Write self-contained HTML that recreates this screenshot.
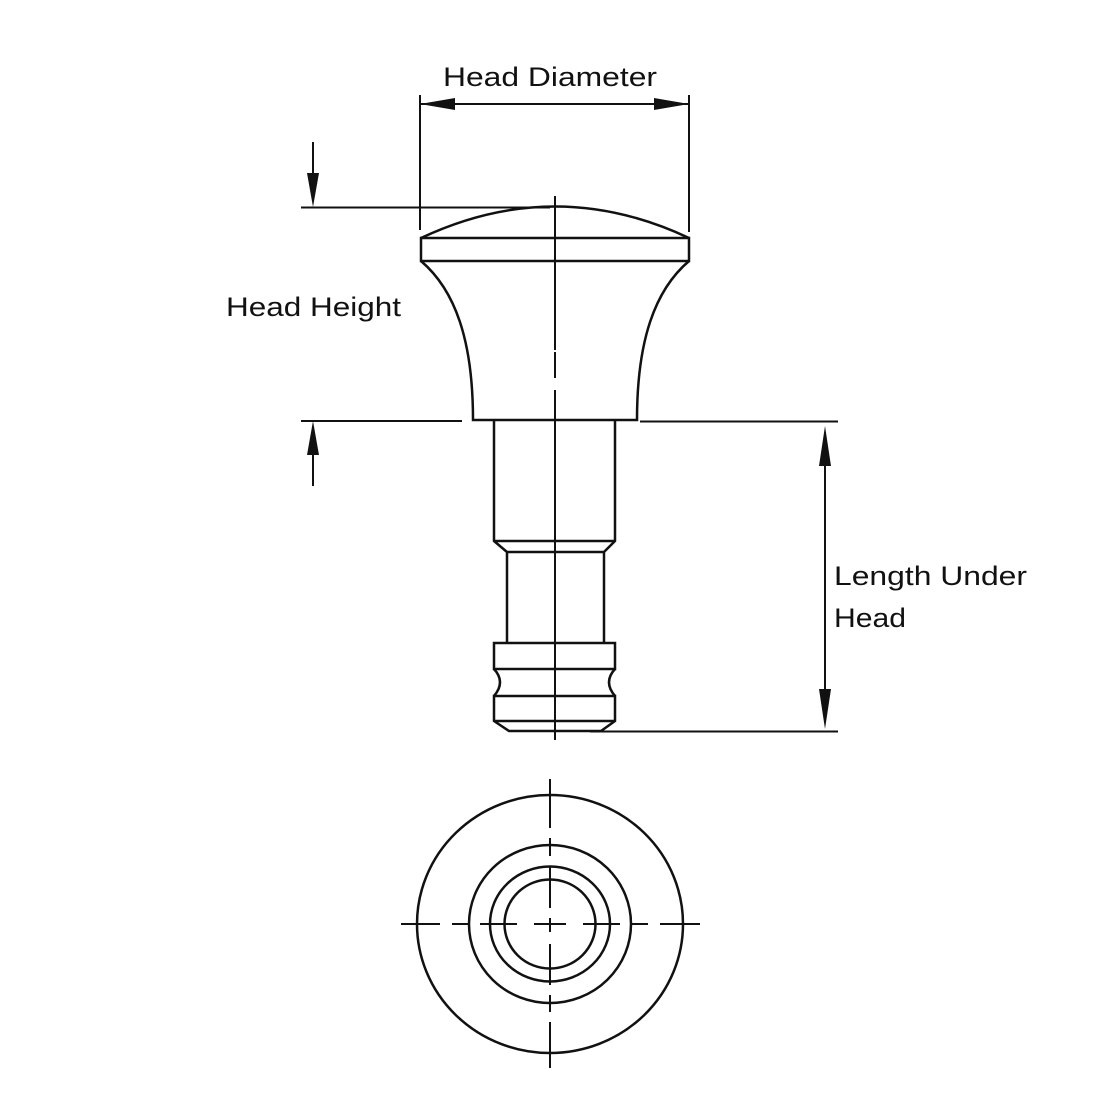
<!DOCTYPE html>
<html><head><meta charset="utf-8"><style>
html,body{margin:0;padding:0;background:#fff;}
svg{display:block;}
text{font-family:"Liberation Sans",sans-serif;font-size:27px;fill:#111;}
</style></head><body>
<svg width="1100" height="1100" viewBox="0 0 1100 1100" xmlns="http://www.w3.org/2000/svg">
<g stroke="#111" stroke-width="2" fill="none">
  <!-- Head diameter dimension -->
  <line x1="420" y1="95" x2="420" y2="230"/>
  <line x1="689" y1="95" x2="689" y2="232"/>
  <line x1="420" y1="104" x2="689" y2="104"/>
  <!-- Head height -->
  <line x1="301" y1="207.5" x2="550" y2="207.5"/>
  <line x1="301" y1="421" x2="462" y2="421"/>
  <line x1="313" y1="142" x2="313" y2="180"/>
  <line x1="313" y1="450" x2="313" y2="486"/>
  <!-- Length under head -->
  <line x1="640" y1="421.5" x2="838" y2="421.5"/>
  <line x1="590" y1="731.5" x2="838" y2="731.5"/>
  <line x1="825" y1="460" x2="825" y2="695"/>
  <!-- Head -->
  <path d="M421 238 Q555 175 689 238" stroke-width="2.5"/>
  <rect x="421" y="238" width="268" height="23" stroke-width="2.5"/>
  <path d="M421 261 C455 290 473 340 473 420 L637 420 C637 340 655 290 689 261" stroke-width="2.5"/>
  <!-- Shaft -->
  <path d="M494 421 L494 541 L507 552 L507 643 M615 421 L615 541 L604 552 L604 643 M494 541 L615 541 M507 552 L604 552" stroke-width="2.5"/>
  <rect x="494" y="643" width="121" height="26" stroke-width="2.5"/>
  <path d="M494 669 Q506 682 494 696 M615 669 Q603 682 615 696" stroke-width="2.5"/>
  <path d="M494 696 L615 696 L615 721 L601 731 L509 731 L494 721 Z M494 721 L615 721" stroke-width="2.5"/>
  <!-- Center line -->
  <path d="M555 196 V350 M555 352 V378 M555 390 V740" stroke-width="2" stroke-dasharray="none"/>
  <!-- Bottom view -->
  <ellipse cx="550" cy="924" rx="133" ry="129" stroke-width="2.5"/>
  <ellipse cx="550" cy="924" rx="81" ry="79" stroke-width="2.5"/>
  <ellipse cx="550" cy="924" rx="60" ry="57.5" stroke-width="2.5"/>
  <ellipse cx="550" cy="924" rx="45.5" ry="44.5" stroke-width="2.5"/>
  <path d="M401 924 H440 M452 924 H468 M480 924 H517 M534 924 H566 M583 924 H620 M632 924 H648 M660 924 H700" stroke-width="2"/>
  <path d="M550 779 V828 M550 838 V856 M550 866 V908 M550 918 V932 M550 944 V985 M550 995 V1012 M550 1022 V1068" stroke-width="2"/>
</g>
<g fill="#111">
  <polygon points="420,104 455,98 455,110"/>
  <polygon points="689,104 654,98 654,110"/>
  <polygon points="313,207 307,173 319,173"/>
  <polygon points="313,421 307,455 319,455"/>
  <polygon points="825,426 819,466 831,466"/>
  <polygon points="825,729 819,689 831,689"/>
</g>
<text x="443" y="86" textLength="214" lengthAdjust="spacingAndGlyphs">Head Diameter</text>
<text x="226" y="316" textLength="175" lengthAdjust="spacingAndGlyphs">Head Height</text>
<text x="834" y="585" textLength="193" lengthAdjust="spacingAndGlyphs">Length Under</text>
<text x="834" y="627" textLength="72" lengthAdjust="spacingAndGlyphs">Head</text>
</svg>
</body></html>
